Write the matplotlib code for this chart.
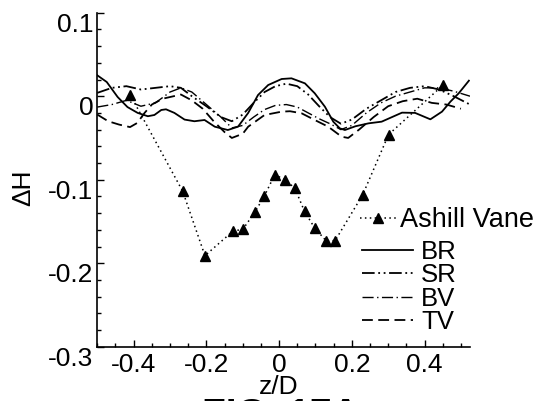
import matplotlib
matplotlib.use("Agg")
import matplotlib.pyplot as plt
from matplotlib.ticker import MultipleLocator

plt.rcParams['font.family'] = ['Liberation Sans', 'DejaVu Sans']

# ---- data ----
ashill_x = [-0.41, -0.265, -0.204, -0.128, -0.099, -0.067, -0.041, -0.012, 0.016,
            0.043, 0.070, 0.098, 0.129, 0.154, 0.230, 0.301, 0.450]
ashill_y = [0.002, -0.114, -0.191, -0.162, -0.159, -0.139, -0.120, -0.094, -0.100,
            -0.110, -0.138, -0.158, -0.173, -0.173, -0.118, -0.046, 0.013]

br_x = [-0.5, -0.474, -0.444, -0.417, -0.389, -0.361, -0.343, -0.324, -0.311, -0.288,
        -0.26, -0.233, -0.205, -0.177, -0.141, -0.113, -0.085, -0.058, -0.03, 0.007,
        0.034, 0.071, 0.098, 0.126, 0.149, 0.167, 0.181, 0.21, 0.246, 0.282, 0.338,
        0.374, 0.416, 0.448, 0.471, 0.494, 0.522]
br_y = [0.025, 0.017, -0.001, -0.013, -0.020, -0.024, -0.0225, -0.0165, -0.0157, -0.020,
        -0.028, -0.030, -0.0285, -0.0365, -0.0405, -0.0365, -0.020, 0.0014, 0.0134, 0.0206,
        0.0214, 0.0154, 0.0035, -0.0126, -0.0305, -0.0385, -0.0405, -0.036, -0.0325, -0.0305,
        -0.0197, -0.020, -0.0277, -0.0185, -0.0066, 0.0035, 0.0186]

sr_x = [-0.5, -0.46, -0.42, -0.38, -0.34, -0.3, -0.27, -0.24, -0.2, -0.16, -0.13, -0.1,
        -0.07, -0.04, -0.01, 0.02, 0.05, 0.08, 0.11, 0.14, 0.17, 0.2, 0.24, 0.28, 0.32,
        0.36, 0.4, 0.44, 0.48, 0.525]
sr_y = [0.004, 0.010, 0.012, 0.008, 0.010, 0.012, 0.010, 0.000, -0.012, -0.025, -0.030,
        -0.022, -0.008, 0.005, 0.012, 0.015, 0.012, 0.002, -0.012, -0.025, -0.033, -0.028,
        -0.015, -0.005, 0.005, 0.010, 0.012, 0.008, 0.000, -0.010]

bv_x = [-0.5, -0.46, -0.42, -0.38, -0.34, -0.3, -0.27, -0.24, -0.2, -0.16, -0.13, -0.1,
        -0.07, -0.04, -0.01, 0.02, 0.05, 0.08, 0.11, 0.14, 0.17, 0.2, 0.24, 0.28, 0.32,
        0.36, 0.4, 0.44, 0.48, 0.525]
bv_y = [-0.013, -0.010, -0.005, -0.012, -0.008, 0.005, 0.010, 0.005, -0.010, -0.025,
        -0.038, -0.035, -0.025, -0.016, -0.011, -0.010, -0.013, -0.020, -0.027, -0.033,
        -0.040, -0.035, -0.020, -0.008, 0.000, 0.005, 0.010, 0.010, 0.006, 0.000]

tv_x = [-0.5, -0.47, -0.44, -0.41, -0.39, -0.37, -0.35, -0.32, -0.29, -0.27, -0.24,
        -0.21, -0.18, -0.15, -0.13, -0.1, -0.085, -0.04, 0.007, 0.03, 0.062, 0.098, 0.135,
        0.172, 0.19, 0.22, 0.26, 0.3, 0.34, 0.38, 0.42, 0.46, 0.5]
tv_y = [-0.022, -0.030, -0.034, -0.037, -0.032, -0.020, -0.010, -0.003, 0.000, 0.002,
        -0.005, -0.015, -0.030, -0.043, -0.050, -0.045, -0.0365, -0.0225, -0.0185, -0.018,
        -0.0205, -0.0285, -0.0365, -0.0485, -0.050, -0.040, -0.025, -0.012, -0.006, -0.003,
        -0.008, -0.010, -0.015]

x_ticks = [-0.4, -0.2, 0, 0.2, 0.4]
x_tick_labels = ["-0.4", "-0.2", "0", "0.2", "0.4"]
y_ticks = [-0.3, -0.2, -0.1, 0, 0.1]
y_tick_labels = ["-0.3", "-0.2", "-0.1", "0", "0.1"]

W, H = 545, 401
fig = plt.figure(figsize=(W / 100, H / 100), dpi=100)
ax = fig.add_axes([97.3 / W, (H - 346.7) / H, (470 - 97.3) / W, (346.7 - 12.7) / H])

lw = 1.3
h_ash, = ax.plot(ashill_x, ashill_y, color='black', linestyle=(0, (1, 2.2)), lw=1.1,
                 marker='^', markersize=7, label='Ashill Vane')
h_br, = ax.plot(br_x, br_y, color='black', lw=lw, label='BR')
h_sr, = ax.plot(sr_x, sr_y, color='black', lw=lw, linestyle=(0, (7, 2, 1, 2, 1, 2)), label='SR')
h_bv, = ax.plot(bv_x, bv_y, color='black', lw=1.0, linestyle=(0, (8, 2.5, 1, 2.5)), label='BV')
h_tv, = ax.plot(tv_x, tv_y, color='black', lw=lw, linestyle=(0, (6, 3)), label='TV')

ax.set_xlim(-0.5, 0.525)
ax.set_ylim(-0.3, 0.1)
ax.set_xticks(x_ticks)
ax.set_xticklabels(x_tick_labels)
ax.set_yticks(y_ticks)
ax.set_yticklabels(y_tick_labels)
ax.xaxis.set_minor_locator(MultipleLocator(0.05))
ax.yaxis.set_minor_locator(MultipleLocator(0.02))
ax.tick_params(which='both', direction='in', top=False, right=False, labelsize=19, width=1)
ax.tick_params(which='major', length=5)
ax.tick_params(axis='x', which='major', pad=4.5)
ax.tick_params(axis='y', which='major', pad=3)
ax.tick_params(which='minor', length=3)
for t in ax.get_yticklabels():
    t.set_va('top')

for s in ['top', 'right']:
    ax.spines[s].set_visible(False)
for s in ['left', 'bottom']:
    ax.spines[s].set_linewidth(1.2)

ax.set_ylabel('ΔH', fontsize=19)
ax.yaxis.set_label_coords(-0.2, 0.475)
ax.set_xlabel('z/D', fontsize=19)
ax.xaxis.set_label_coords(0.4875, -0.12)
ax.xaxis.label.set_va('center')
ax.yaxis.label.set_va('center')

leg1 = ax.legend(handles=[h_ash], loc='upper left', frameon=False, fontsize=19.5,
                 bbox_to_anchor=(360 / W, (H - 207) / H), bbox_transform=fig.transFigure,
                 borderpad=0, borderaxespad=0, handlelength=1.35, handletextpad=0.12,
                 numpoints=1)
ax.add_artist(leg1)
ax.legend(handles=[h_br, h_sr, h_bv, h_tv], loc='upper left', frameon=False, fontsize=18.5,
          bbox_to_anchor=(362 / W, (H - 240) / H), bbox_transform=fig.transFigure,
          borderpad=0, borderaxespad=0, handlelength=2.0, handletextpad=0.3,
          labelspacing=-0.02)

fig.text(281 / W, (H - 425.5) / H, 'FIG. 17A', fontsize=28, fontweight='bold',
         ha='center', va='baseline')

fig.savefig('out.png', dpi=100)
